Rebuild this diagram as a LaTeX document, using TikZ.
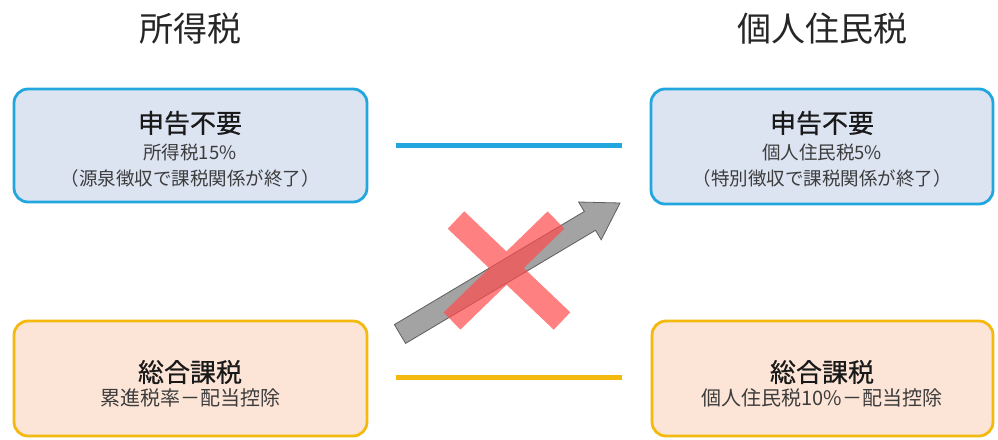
\documentclass[tikz,border=0pt]{standalone}
\usepackage{fontspec}
\newfontfamily\jp{Noto Sans CJK JP}
\newfontfamily\jph[FakeBold=0.6]{Noto Sans CJK JP}
\definecolor{bluebd}{HTML}{22A6DE}
\definecolor{bluefill}{HTML}{DCE4F2}
\definecolor{orbd}{HTML}{F3B90F}
\definecolor{orfill}{HTML}{FCE5D7}
\definecolor{subtxt}{HTML}{3C3C3C}
\definecolor{xred}{HTML}{FF4B4B}
\definecolor{arrfill}{HTML}{A3A3A3}
\definecolor{arrbd}{HTML}{5E5E5E}
\begin{document}
\begin{tikzpicture}[x=1pt,y=-1pt,
  boxb/.style={draw=bluebd,fill=bluefill,line width=2.8pt,rounded corners=14pt},
  boxo/.style={draw=orbd,fill=orfill,line width=2.8pt,rounded corners=14pt},
  title/.style={font=\jp\fontsize{34}{36}\selectfont,text=black!85},
  head/.style={font=\jph\fontsize{26}{30}\selectfont,text=black!90},
  sub/.style={font=\jp\fontsize{18.5}{22}\selectfont,text=subtxt},
  subb/.style={font=\jp\fontsize{20}{24}\selectfont,text=subtxt},
  link/.style={line width=5pt}]
\useasboundingbox (0,0) rectangle (998,439);
\fill[white] (0,0) rectangle (998,439);
% titles
\node[title] (t1) at (190,29) {所得税};
\node[title] (t2) at (822,29) {個人住民税};
% boxes
\draw[boxb] (14,89) rectangle (367,202);
\draw[boxb] (651,89) rectangle (993,204);
\draw[boxo] (14,321) rectangle (367,436);
\draw[boxo] (652,321) rectangle (993,436);
% box texts
\node[head] (a1) at (190,123) {申告不要};
\node[sub] (a2) at (190,152) {所得税15\%};
\node[sub] (a3) at (190,178) {（源泉徴収で課税関係が終了）};
\node[head] (b1) at (822,123) {申告不要};
\node[sub] (b2) at (822,152) {個人住民税5\%};
\node[sub] (b3) at (822,178) {（特別徴収で課税関係が終了）};
\node[head] (c1) at (190,372) {総合課税};
\node[subb] (c2) at (190,398) {累進税率－配当控除};
\node[head] (d1) at (822,372) {総合課税};
\node[subb] (d2) at (822,398) {個人住民税10\%－配当控除};
% connector lines
\coordinate (l1a) at (396,145); \coordinate (l1b) at (622,145);
\coordinate (l2a) at (396,377); \coordinate (l2b) at (622,377);
\draw[link,draw=bluebd] (l1a) -- (l1b);
\draw[link,draw=orbd] (l2a) -- (l2b);
% gray arrow
\draw[fill=arrfill,draw=arrbd,line width=0.8pt,line join=miter]
  (405.6,343.4) -- (394.4,324.6) -- (584.3,211.5) -- (578.6,202.0)
  -- (620,203) -- (601.2,239.8) -- (595.5,230.3) -- cycle;
% red X (one path, so the crossing is not darker)
\draw[xred,opacity=0.7,line width=24pt] (456,220) -- (562,321) (556,220) -- (452,321);
\end{tikzpicture}
\end{document}
